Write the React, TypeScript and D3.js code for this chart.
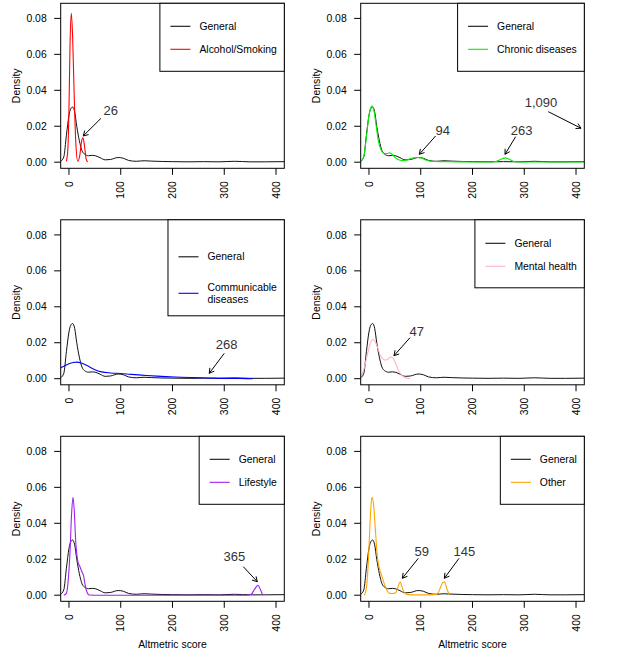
import React, { useEffect, useRef } from "react";
import * as d3 from "d3";

const xTicks = [0, 100, 200, 300, 400];
const yTicks = [0, 0.02, 0.04, 0.06, 0.08];

// density curves (score, density)
const generalX = [-16, -10, -5, 0, 3, 7, 11, 15, 20, 25, 30, 38, 45, 52, 60, 70, 80, 95, 105, 115, 130, 145, 160, 180, 200, 230, 260, 290, 320, 350, 380, 416];
const generalY = [0.0005, 0.003, 0.015, 0.026, 0.0295, 0.0307, 0.028, 0.02, 0.012, 0.0065, 0.0045, 0.0036, 0.0038, 0.0035, 0.0025, 0.0013, 0.0015, 0.0026, 0.0022, 0.001, 0.0005, 0.0008, 0.0006, 0.0004, 0.0003, 0.0002, 0.0003, 0.0002, 0.0005, 0.0002, 0.0002, 0.0003];

const alcoholX = [-5, -2, 0, 2, 4.5, 7, 10, 13, 17, 21, 24, 27, 30, 33, 36];
const alcoholY = [0.0005, 0.008, 0.03, 0.065, 0.0828, 0.07, 0.038, 0.012, 0.0005, 0.004, 0.011, 0.0135, 0.009, 0.002, 0.0002];

const chronicX = [-16, -10, -5, 0, 3, 6, 10, 14, 18, 23, 28, 34, 40, 46, 52, 60, 68, 78, 88, 95, 102, 110, 120, 140, 170, 200, 230, 245, 255, 263, 271, 280, 300, 340, 380, 416];
const chronicY = [0.0004, 0.003, 0.014, 0.026, 0.03, 0.0314, 0.028, 0.02, 0.012, 0.007, 0.005, 0.0048, 0.0052, 0.004, 0.0022, 0.0011, 0.0009, 0.0017, 0.0025, 0.0026, 0.0022, 0.0012, 0.0005, 0.0003, 0.0002, 0.0001, 0.0001, 0.0004, 0.0016, 0.0024, 0.0016, 0.0004, 0.0001, 0.0001, 0.0001, 0.0001];

const commX = [-16, -8, 0, 8, 15, 22, 30, 40, 50, 63, 80, 100, 120, 140, 170, 205, 240, 270, 300, 330, 355];
const commY = [0.0061, 0.0072, 0.0083, 0.009, 0.0092, 0.0089, 0.008, 0.0065, 0.005, 0.0038, 0.0032, 0.0029, 0.0024, 0.002, 0.0014, 0.0009, 0.0006, 0.0004, 0.0002, 0.0001, 0.0];

const mentalX = [-15, -10, -5, 0, 4, 8, 12, 17, 22, 27, 32, 37, 42, 47, 52, 58, 65, 72, 80];
const mentalY = [0.0018, 0.005, 0.011, 0.017, 0.0208, 0.0218, 0.0205, 0.017, 0.013, 0.011, 0.0103, 0.011, 0.012, 0.0112, 0.008, 0.004, 0.0015, 0.0004, 0.0];

const lifestyleX = [-10, -5, -1, 2, 5, 7.7, 10, 13, 17, 21, 25, 28, 31, 35, 39, 60, 100, 200, 300, 345, 352, 358, 365, 370, 374];
const lifestyleY = [0, 0.001, 0.01, 0.024, 0.045, 0.0545, 0.048, 0.03, 0.019, 0.016, 0.013, 0.011, 0.006, 0.0015, 0.0001, 0, 0, 0, 0, 0, 0.0005, 0.003, 0.0055, 0.003, 0.0002];

const otherX = [-9, -5, -1, 2, 4.5, 6.5, 9, 12, 16, 20, 25, 30, 35, 40, 46, 52, 56, 60, 64, 68, 75, 90, 110, 128, 134, 139, 142, 146, 150, 155];
const otherY = [0, 0.004, 0.02, 0.04, 0.052, 0.0545, 0.05, 0.038, 0.022, 0.015, 0.0105, 0.006, 0.0025, 0.001, 0.0009, 0.0015, 0.0045, 0.0074, 0.0045, 0.0015, 0.0003, 0.0002, 0.0002, 0.0003, 0.0015, 0.005, 0.0068, 0.0074, 0.004, 0.0003];

// annotations: label at (tx, ty), arrow from (x0, y0) to (x1, y1)
const alcoholNotes = [{ text: "26", tx: 80.6, ty: 0.0287, x0: 61.8, y0: 0.0244, x1: 27.6, y1: 0.0146 }];
const chronicNotes = [
  { text: "94", tx: 142.4, ty: 0.0174, x0: 128.9, y0: 0.0146, x1: 97.2, y1: 0.0044 },
  { text: "263", tx: 295, ty: 0.0174, x0: 283.4, y0: 0.0142, x1: 262.8, y1: 0.0044 },
  { text: "1,090", tx: 332.3, ty: 0.0331, x0: 346.4, y0: 0.0281, x1: 409.6, y1: 0.0189 },
];
const commNotes = [{ text: "268", tx: 304.7, ty: 0.0188, x0: 300, y0: 0.0141, x1: 271, y1: 0.003 }];
const mentalNotes = [{ text: "47", tx: 92.2, ty: 0.0262, x0: 79.2, y0: 0.0228, x1: 48.3, y1: 0.0128 }];
const lifestyleNotes = [{ text: "365", tx: 319.4, ty: 0.0214, x0: 336.7, y0: 0.0159, x1: 363.8, y1: 0.0075 }];
const otherNotes = [
  { text: "59", tx: 101.9, ty: 0.0246, x0: 95.3, y0: 0.0205, x1: 64.4, y1: 0.0094 },
  { text: "145", tx: 184.2, ty: 0.0246, x0: 174, y0: 0.0205, x1: 145.6, y1: 0.0094 },
];

const panels = [
  { name: ["Alcohol/Smoking"], color: "#ff0000", xs: alcoholX, ys: alcoholY, notes: alcoholNotes, col: 0, row: 0, rows: [23, 46], legH: 68 },
  { name: ["Chronic diseases"], color: "#00f000", xs: chronicX, ys: chronicY, notes: chronicNotes, col: 1, row: 0, rows: [23, 46], legH: 68 },
  { name: ["Communicable", "diseases"], color: "#0000ff", xs: commX, ys: commY, notes: commNotes, col: 0, row: 1, rows: [37, 73.5], legH: 96 },
  { name: ["Mental health"], color: "#ffb6c1", xs: mentalX, ys: mentalY, notes: mentalNotes, col: 1, row: 1, rows: [23.5, 46.5], legH: 68 },
  { name: ["Lifestyle"], color: "#a020f0", xs: lifestyleX, ys: lifestyleY, notes: lifestyleNotes, col: 0, row: 2, rows: [23, 46], legH: 68 },
  { name: ["Other"], color: "#ffa500", xs: otherX, ys: otherY, notes: otherNotes, col: 1, row: 2, rows: [23, 46], legH: 68 },
];

const W = 620;
const H = 651;
const colLeft = [60.7, 360.7];
const rowTop = [3.3, 219.8, 436.3];
const boxW = 223.6;
const boxH = 165;
const font = "'Liberation Sans', Arial, Helvetica, sans-serif";
const fs = 10.4;

const App = () => {
  const ref = useRef<SVGSVGElement>(null);

  useEffect(() => {
    const svg = d3.select(ref.current);
    svg.selectAll("*").remove();
    svg.append("rect").attr("width", W).attr("height", H).attr("fill", "#fff");

    panels.forEach((p, i) => {
      const left = colLeft[p.col];
      const top = rowTop[p.row];
      const x = d3.scaleLinear().domain([-16, 416]).range([left, left + boxW]);
      const y = d3.scaleLinear().domain([-0.0034, 0.0884]).range([top + boxH, top]);
      const g = svg.append("g");

      g.append("clipPath")
        .attr("id", "clip" + i)
        .append("rect")
        .attr("x", left)
        .attr("y", top)
        .attr("width", boxW)
        .attr("height", boxH);

      const line = d3
        .line<[number, number]>()
        .x((d) => x(d[0]))
        .y((d) => y(d[1]))
        .curve(d3.curveMonotoneX);

      const curves = g.append("g").attr("clip-path", `url(#clip${i})`);
      curves
        .append("path")
        .attr("d", line(d3.zip(generalX, generalY) as [number, number][]))
        .attr("fill", "none")
        .attr("stroke", "#111")
        .attr("stroke-width", 1);
      curves
        .append("path")
        .attr("d", line(d3.zip(p.xs, p.ys) as [number, number][]))
        .attr("fill", "none")
        .attr("stroke", p.color)
        .attr("stroke-width", 1.1);

      // box
      g.append("rect")
        .attr("x", left)
        .attr("y", top)
        .attr("width", boxW)
        .attr("height", boxH)
        .attr("fill", "none")
        .attr("stroke", "#000")
        .attr("stroke-width", 1);

      // y axis
      yTicks.forEach((t) => {
        g.append("line")
          .attr("x1", left)
          .attr("x2", left - 6.5)
          .attr("y1", y(t))
          .attr("y2", y(t))
          .attr("stroke", "#000");
        g.append("text")
          .attr("x", left - 14)
          .attr("y", y(t))
          .attr("dy", "0.35em")
          .attr("text-anchor", "end")
          .style("font-family", font)
          .style("font-size", fs + "px")
          .attr("fill", "#000")
          .text(t.toFixed(2));
      });
      g.append("text")
        .attr("transform", `translate(${left - 40.7},${top + boxH / 2}) rotate(-90)`)
        .attr("text-anchor", "middle")
        .style("font-family", font)
        .style("font-size", fs + "px")
        .text("Density");

      // x axis
      xTicks.forEach((t) => {
        g.append("line")
          .attr("x1", x(t))
          .attr("x2", x(t))
          .attr("y1", top + boxH)
          .attr("y2", top + boxH + 6.5)
          .attr("stroke", "#000");
        g.append("text")
          .attr("transform", `translate(${x(t)},${top + boxH + 13}) rotate(-90)`)
          .attr("dy", "0.35em")
          .attr("text-anchor", "end")
          .style("font-family", font)
          .style("font-size", fs + "px")
          .text(t);
      });
      if (p.row === 2) {
        g.append("text")
          .attr("x", left + boxW / 2)
          .attr("y", 648.3)
          .attr("text-anchor", "middle")
          .style("font-family", font)
          .style("font-size", fs + "px")
          .text("Altmetric score");
      }

      // legend
      const leg = g.append("g");
      const entries = [
        { lines: ["General"], color: "#111" },
        { lines: p.name, color: p.color },
      ];
      let maxW = 0;
      const texts: any[] = [];
      entries.forEach((e, k) => {
        const cy = top + p.rows[k];
        e.lines.forEach((s, j) => {
          const off = (j - (e.lines.length - 1) / 2) * 12.6;
          const t = leg
            .append("text")
            .attr("y", cy + off)
            .attr("dy", "0.35em")
            .style("font-family", font)
            .style("font-size", fs + "px")
            .text(s);
          texts.push(t);
          const len = (t.node() as SVGTextElement).getComputedTextLength();
          if (len > maxW) maxW = len;
        });
      });
      const legW = 39.5 + maxW + 7.5;
      const legL = left + boxW - legW;
      texts.forEach((t) => t.attr("x", legL + 39.5));
      entries.forEach((e, k) => {
        const cy = top + p.rows[k];
        leg.append("line")
          .attr("x1", legL + 10.5)
          .attr("x2", legL + 30.5)
          .attr("y1", cy)
          .attr("y2", cy)
          .attr("stroke", e.color)
          .attr("stroke-width", 1.1);
      });
      leg.insert("rect", ":first-child")
        .attr("x", legL)
        .attr("y", top)
        .attr("width", legW)
        .attr("height", p.legH)
        .attr("fill", "#fff")
        .attr("stroke", "#000");

      // annotations
      p.notes.forEach((n) => {
        g.append("text")
          .attr("x", x(n.tx))
          .attr("y", y(n.ty))
          .attr("dy", "0.35em")
          .attr("text-anchor", "middle")
          .style("font-family", font)
          .style("font-size", "13px")
          .attr("fill", "#333")
          .text(n.text);
        const ax0 = x(n.x0), ay0 = y(n.y0), ax1 = x(n.x1), ay1 = y(n.y1);
        const ang = Math.atan2(ay1 - ay0, ax1 - ax0);
        const hl = 5.5;
        const w1 = [ax1 - hl * Math.cos(ang - Math.PI / 6), ay1 - hl * Math.sin(ang - Math.PI / 6)];
        const w2 = [ax1 - hl * Math.cos(ang + Math.PI / 6), ay1 - hl * Math.sin(ang + Math.PI / 6)];
        g.append("path")
          .attr("d", `M${ax0},${ay0}L${ax1},${ay1}M${w1[0]},${w1[1]}L${ax1},${ay1}L${w2[0]},${w2[1]}`)
          .attr("fill", "none")
          .attr("stroke", "#000")
          .attr("stroke-width", 1);
      });
    });
  });

  return (
    <svg
      ref={ref}
      width={W}
      height={H}
      style={{ position: "absolute", left: 0, top: 0 }}
    />
  );
};

export default App;
